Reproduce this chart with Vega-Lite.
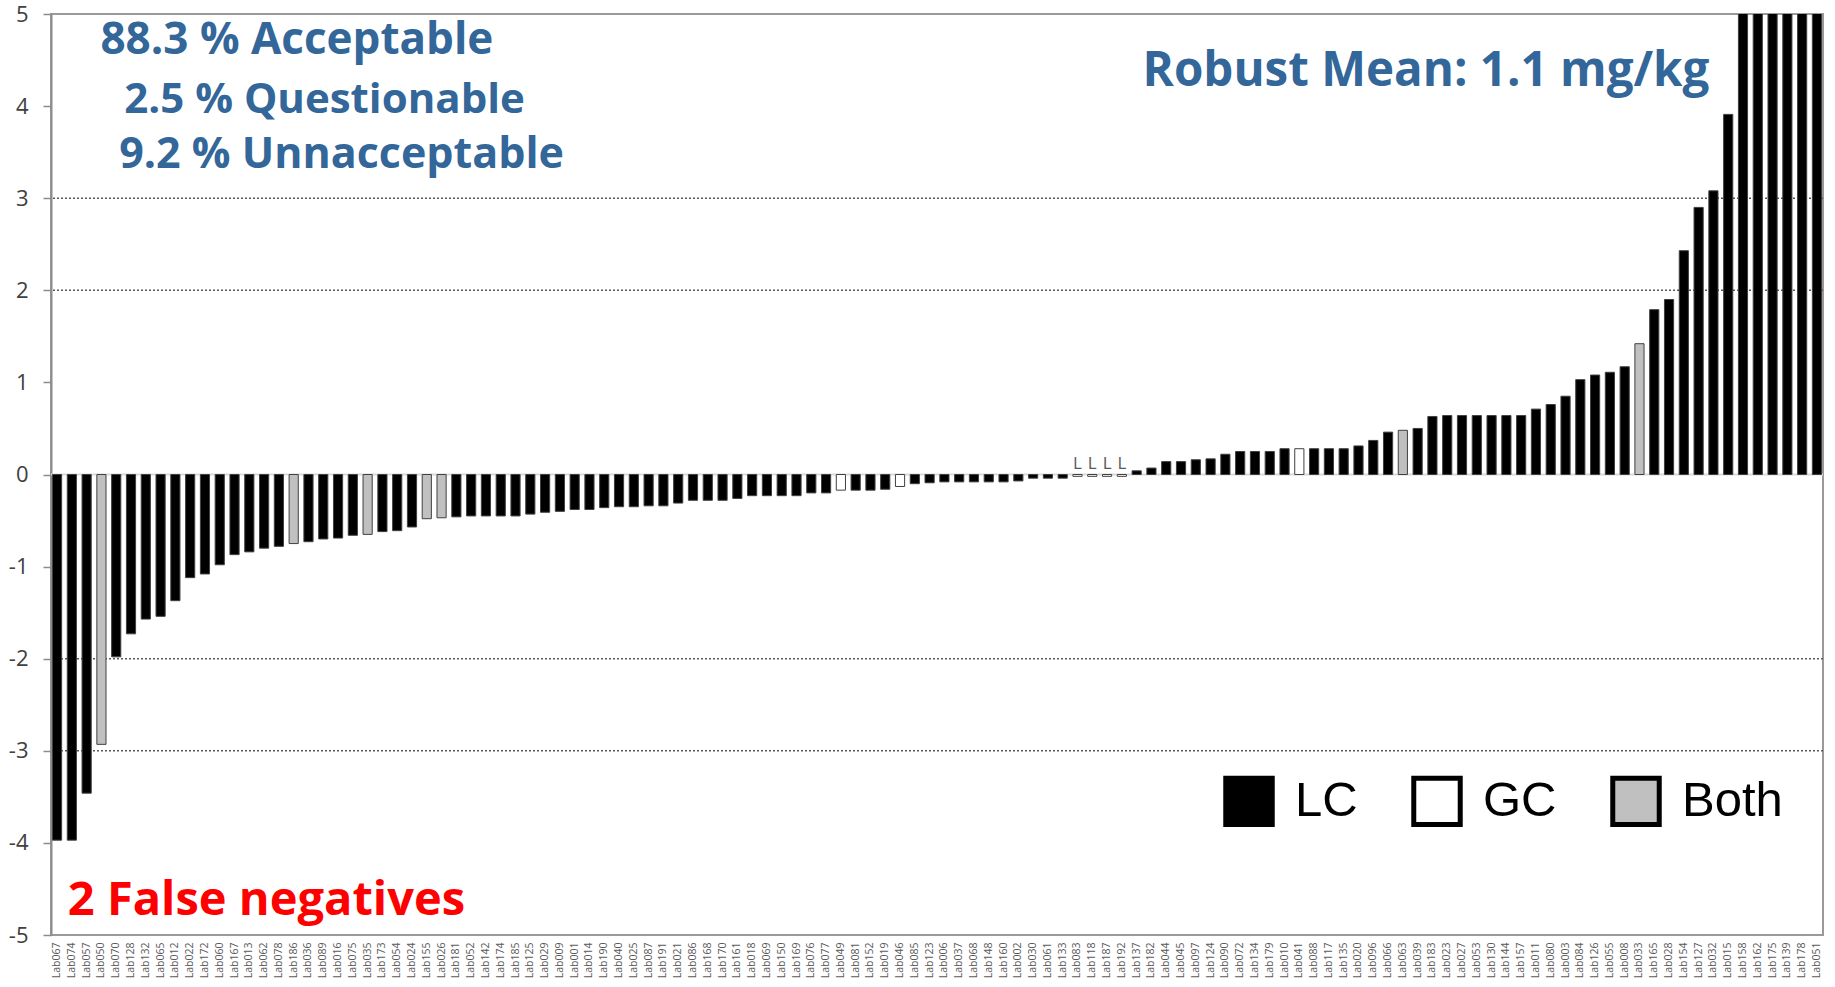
{
  "$schema": "https://vega.github.io/schema/vega-lite/v6.json",
  "width": 1772,
  "height": 921,
  "autosize": {"type": "none"},
  "padding": {"left": 51, "top": 14, "right": 12, "bottom": 52},
  "background": "white",
  "config": {"view": {"stroke": "#9a9a9a", "strokeWidth": 2}, "font": "Open Sans"},
  "datasets": {
    "labs": [
      {"lab": "Lab067", "z": -3.97, "type": "LC"},
      {"lab": "Lab074", "z": -3.97, "type": "LC"},
      {"lab": "Lab057", "z": -3.46, "type": "LC"},
      {"lab": "Lab050", "z": -2.93, "type": "Both"},
      {"lab": "Lab070", "z": -1.98, "type": "LC"},
      {"lab": "Lab128", "z": -1.73, "type": "LC"},
      {"lab": "Lab132", "z": -1.57, "type": "LC"},
      {"lab": "Lab065", "z": -1.54, "type": "LC"},
      {"lab": "Lab012", "z": -1.37, "type": "LC"},
      {"lab": "Lab022", "z": -1.12, "type": "LC"},
      {"lab": "Lab172", "z": -1.08, "type": "LC"},
      {"lab": "Lab060", "z": -0.98, "type": "LC"},
      {"lab": "Lab167", "z": -0.87, "type": "LC"},
      {"lab": "Lab013", "z": -0.84, "type": "LC"},
      {"lab": "Lab062", "z": -0.80, "type": "LC"},
      {"lab": "Lab078", "z": -0.78, "type": "LC"},
      {"lab": "Lab186", "z": -0.75, "type": "Both"},
      {"lab": "Lab036", "z": -0.73, "type": "LC"},
      {"lab": "Lab089", "z": -0.70, "type": "LC"},
      {"lab": "Lab016", "z": -0.69, "type": "LC"},
      {"lab": "Lab075", "z": -0.66, "type": "LC"},
      {"lab": "Lab035", "z": -0.65, "type": "Both"},
      {"lab": "Lab173", "z": -0.62, "type": "LC"},
      {"lab": "Lab054", "z": -0.61, "type": "LC"},
      {"lab": "Lab024", "z": -0.57, "type": "LC"},
      {"lab": "Lab155", "z": -0.48, "type": "Both"},
      {"lab": "Lab026", "z": -0.47, "type": "Both"},
      {"lab": "Lab181", "z": -0.46, "type": "LC"},
      {"lab": "Lab052", "z": -0.45, "type": "LC"},
      {"lab": "Lab142", "z": -0.45, "type": "LC"},
      {"lab": "Lab174", "z": -0.45, "type": "LC"},
      {"lab": "Lab185", "z": -0.45, "type": "LC"},
      {"lab": "Lab125", "z": -0.43, "type": "LC"},
      {"lab": "Lab029", "z": -0.41, "type": "LC"},
      {"lab": "Lab009", "z": -0.40, "type": "LC"},
      {"lab": "Lab001", "z": -0.38, "type": "LC"},
      {"lab": "Lab014", "z": -0.38, "type": "LC"},
      {"lab": "Lab190", "z": -0.36, "type": "LC"},
      {"lab": "Lab040", "z": -0.35, "type": "LC"},
      {"lab": "Lab025", "z": -0.35, "type": "LC"},
      {"lab": "Lab087", "z": -0.34, "type": "LC"},
      {"lab": "Lab191", "z": -0.34, "type": "LC"},
      {"lab": "Lab021", "z": -0.31, "type": "LC"},
      {"lab": "Lab086", "z": -0.28, "type": "LC"},
      {"lab": "Lab168", "z": -0.28, "type": "LC"},
      {"lab": "Lab170", "z": -0.28, "type": "LC"},
      {"lab": "Lab161", "z": -0.26, "type": "LC"},
      {"lab": "Lab018", "z": -0.23, "type": "LC"},
      {"lab": "Lab069", "z": -0.23, "type": "LC"},
      {"lab": "Lab150", "z": -0.23, "type": "LC"},
      {"lab": "Lab169", "z": -0.23, "type": "LC"},
      {"lab": "Lab076", "z": -0.20, "type": "LC"},
      {"lab": "Lab077", "z": -0.20, "type": "LC"},
      {"lab": "Lab049", "z": -0.17, "type": "GC"},
      {"lab": "Lab081", "z": -0.17, "type": "LC"},
      {"lab": "Lab152", "z": -0.17, "type": "LC"},
      {"lab": "Lab019", "z": -0.16, "type": "LC"},
      {"lab": "Lab046", "z": -0.13, "type": "GC"},
      {"lab": "Lab085", "z": -0.10, "type": "LC"},
      {"lab": "Lab123", "z": -0.09, "type": "LC"},
      {"lab": "Lab006", "z": -0.08, "type": "LC"},
      {"lab": "Lab037", "z": -0.08, "type": "LC"},
      {"lab": "Lab068", "z": -0.08, "type": "LC"},
      {"lab": "Lab148", "z": -0.08, "type": "LC"},
      {"lab": "Lab160", "z": -0.08, "type": "LC"},
      {"lab": "Lab002", "z": -0.07, "type": "LC"},
      {"lab": "Lab030", "z": -0.04, "type": "LC"},
      {"lab": "Lab061", "z": -0.04, "type": "LC"},
      {"lab": "Lab133", "z": -0.04, "type": "LC"},
      {"lab": "Lab083", "z": -0.02, "type": "GC"},
      {"lab": "Lab118", "z": -0.02, "type": "GC"},
      {"lab": "Lab187", "z": -0.02, "type": "GC"},
      {"lab": "Lab192", "z": -0.02, "type": "GC"},
      {"lab": "Lab137", "z": 0.04, "type": "LC"},
      {"lab": "Lab182", "z": 0.07, "type": "LC"},
      {"lab": "Lab044", "z": 0.14, "type": "LC"},
      {"lab": "Lab045", "z": 0.14, "type": "LC"},
      {"lab": "Lab097", "z": 0.16, "type": "LC"},
      {"lab": "Lab124", "z": 0.17, "type": "LC"},
      {"lab": "Lab090", "z": 0.22, "type": "LC"},
      {"lab": "Lab072", "z": 0.25, "type": "LC"},
      {"lab": "Lab134", "z": 0.25, "type": "LC"},
      {"lab": "Lab179", "z": 0.25, "type": "LC"},
      {"lab": "Lab010", "z": 0.28, "type": "LC"},
      {"lab": "Lab041", "z": 0.28, "type": "GC"},
      {"lab": "Lab088", "z": 0.28, "type": "LC"},
      {"lab": "Lab117", "z": 0.28, "type": "LC"},
      {"lab": "Lab135", "z": 0.28, "type": "LC"},
      {"lab": "Lab020", "z": 0.31, "type": "LC"},
      {"lab": "Lab096", "z": 0.37, "type": "LC"},
      {"lab": "Lab066", "z": 0.46, "type": "LC"},
      {"lab": "Lab063", "z": 0.48, "type": "Both"},
      {"lab": "Lab039", "z": 0.50, "type": "LC"},
      {"lab": "Lab183", "z": 0.63, "type": "LC"},
      {"lab": "Lab023", "z": 0.64, "type": "LC"},
      {"lab": "Lab027", "z": 0.64, "type": "LC"},
      {"lab": "Lab053", "z": 0.64, "type": "LC"},
      {"lab": "Lab130", "z": 0.64, "type": "LC"},
      {"lab": "Lab144", "z": 0.64, "type": "LC"},
      {"lab": "Lab157", "z": 0.64, "type": "LC"},
      {"lab": "Lab011", "z": 0.71, "type": "LC"},
      {"lab": "Lab080", "z": 0.76, "type": "LC"},
      {"lab": "Lab003", "z": 0.85, "type": "LC"},
      {"lab": "Lab084", "z": 1.03, "type": "LC"},
      {"lab": "Lab126", "z": 1.08, "type": "LC"},
      {"lab": "Lab055", "z": 1.11, "type": "LC"},
      {"lab": "Lab008", "z": 1.17, "type": "LC"},
      {"lab": "Lab033", "z": 1.42, "type": "Both"},
      {"lab": "Lab165", "z": 1.79, "type": "LC"},
      {"lab": "Lab028", "z": 1.90, "type": "LC"},
      {"lab": "Lab154", "z": 2.43, "type": "LC"},
      {"lab": "Lab127", "z": 2.90, "type": "LC"},
      {"lab": "Lab032", "z": 3.08, "type": "LC"},
      {"lab": "Lab015", "z": 3.91, "type": "LC"},
      {"lab": "Lab158", "z": 5.4, "type": "LC"},
      {"lab": "Lab162", "z": 6.0, "type": "LC"},
      {"lab": "Lab175", "z": 6.8, "type": "LC"},
      {"lab": "Lab139", "z": 7.5, "type": "LC"},
      {"lab": "Lab178", "z": 8.6, "type": "LC"},
      {"lab": "Lab051", "z": 10.2, "type": "LC"}
    ],
    "grid": [{"g": -3}, {"g": -2}, {"g": 2}, {"g": 3}],
    "lflag": [{"lab": "Lab083"}, {"lab": "Lab118"}, {"lab": "Lab187"}, {"lab": "Lab192"}]
  },
  "encoding": {
    "x": {
      "field": "lab",
      "type": "nominal",
      "sort": null,
      "scale": {
        "paddingInner": 0.38,
        "paddingOuter": 0.1,
        "domain": ["Lab067","Lab074","Lab057","Lab050","Lab070","Lab128","Lab132","Lab065","Lab012","Lab022","Lab172","Lab060","Lab167","Lab013","Lab062","Lab078","Lab186","Lab036","Lab089","Lab016","Lab075","Lab035","Lab173","Lab054","Lab024","Lab155","Lab026","Lab181","Lab052","Lab142","Lab174","Lab185","Lab125","Lab029","Lab009","Lab001","Lab014","Lab190","Lab040","Lab025","Lab087","Lab191","Lab021","Lab086","Lab168","Lab170","Lab161","Lab018","Lab069","Lab150","Lab169","Lab076","Lab077","Lab049","Lab081","Lab152","Lab019","Lab046","Lab085","Lab123","Lab006","Lab037","Lab068","Lab148","Lab160","Lab002","Lab030","Lab061","Lab133","Lab083","Lab118","Lab187","Lab192","Lab137","Lab182","Lab044","Lab045","Lab097","Lab124","Lab090","Lab072","Lab134","Lab179","Lab010","Lab041","Lab088","Lab117","Lab135","Lab020","Lab096","Lab066","Lab063","Lab039","Lab183","Lab023","Lab027","Lab053","Lab130","Lab144","Lab157","Lab011","Lab080","Lab003","Lab084","Lab126","Lab055","Lab008","Lab033","Lab165","Lab028","Lab154","Lab127","Lab032","Lab015","Lab158","Lab162","Lab175","Lab139","Lab178","Lab051"]
      },
      "axis": {
        "title": null,
        "labelAngle": -90,
        "labelFontSize": 10.5,
        "labelFont": "Open Sans",
        "labelColor": "#595959",
        "ticks": false,
        "domain": false,
        "labelPadding": 7,
        "labelOverlap": false
      }
    }
  },
  "layer": [
    {
      "data": {"name": "grid"},
      "mark": {"type": "rule", "stroke": "#595959", "strokeDash": [2, 2], "strokeWidth": 1.5},
      "encoding": {"x": null, "y": {"field": "g", "type": "quantitative", "scale": {"domain": [-5, 5], "nice": false, "zero": false}}}
    },
    {
      "data": {"values": [{"g": 0}]},
      "mark": {"type": "rule", "stroke": "#d9d9d9", "strokeWidth": 2},
      "encoding": {"x": null, "y": {"field": "g", "type": "quantitative"}}
    },
    {
      "data": {"name": "labs"},
      "mark": {"type": "bar", "clip": true, "stroke": "#404040", "strokeWidth": 1},
      "encoding": {
        "y": {
          "field": "z",
          "type": "quantitative",
          "axis": {
            "title": null,
            "values": [-5, -4, -3, -2, -1, 0, 1, 2, 3, 4, 5],
            "grid": false,
            "domainColor": "#8c8c8c",
            "domainWidth": 2,
            "tickColor": "#8c8c8c",
            "tickSize": 8,
            "tickWidth": 1.5,
            "labelFontSize": 22,
            "labelFont": "Open Sans",
            "labelColor": "#404040",
            "labelPadding": 15,
            "labelExpr": "datum.value < 0 ? '-' + abs(datum.value) : '' + datum.value"
          }
        },
        "fill": {
          "field": "type",
          "type": "nominal",
          "scale": {"domain": ["LC", "GC", "Both"], "range": ["#000000", "#ffffff", "#c0c0c0"]},
          "legend": {
            "orient": "none",
            "legendX": 1172,
            "legendY": 761,
            "direction": "horizontal",
            "title": null,
            "symbolType": "square",
            "symbolSize": 2160,
            "symbolOpacity": 1,
            "labelFontSize": 49,
            "labelFont": "Liberation Sans",
            "labelColor": "#000000",
            "labelOffset": 20,
            "columnPadding": 45,
            "padding": 0,
            "symbolStrokeWidth": 5,
            "symbolStrokeColor": "#000000",
            "encode": {"symbols": {"update": {"stroke": {"value": "#000000"}, "strokeWidth": {"value": 5}}}}
          }
        }
      }
    },
    {
      "data": {"name": "lflag"},
      "mark": {"type": "text", "text": "L", "fontSize": 17, "fill": "#595959", "align": "center", "baseline": "alphabetic", "font": "Open Sans"},
      "encoding": {"y": {"datum": 0.06}}
    },
    {
      "data": {"values": [{}]},
      "mark": {"type": "text", "text": "88.3 % Acceptable", "fontSize": 44, "fontWeight": "bold", "fill": "#336699", "align": "left", "baseline": "alphabetic", "dx": -1, "font": "Open Sans"},
      "encoding": {"x": {"datum": "Lab050"}, "y": {"datum": 4.57}}
    },
    {
      "data": {"values": [{}]},
      "mark": {"type": "text", "text": "2.5 % Questionable", "fontSize": 42, "fontWeight": "bold", "fill": "#336699", "align": "left", "baseline": "alphabetic", "dx": 8, "font": "Open Sans"},
      "encoding": {"x": {"datum": "Lab070"}, "y": {"datum": 3.93}}
    },
    {
      "data": {"values": [{}]},
      "mark": {"type": "text", "text": "9.2 % Unnacceptable", "fontSize": 43, "fontWeight": "bold", "fill": "#336699", "align": "left", "baseline": "alphabetic", "dx": 3, "font": "Open Sans"},
      "encoding": {"x": {"datum": "Lab070"}, "y": {"datum": 3.33}}
    },
    {
      "data": {"values": [{}]},
      "mark": {"type": "text", "text": "Robust Mean: 1.1 mg/kg", "fontSize": 47.5, "fontWeight": "bold", "fill": "#336699", "align": "right", "baseline": "alphabetic", "dx": -4, "font": "Open Sans"},
      "encoding": {"x": {"datum": "Lab032"}, "y": {"datum": 4.22}}
    },
    {
      "data": {"values": [{}]},
      "mark": {"type": "text", "text": "2 False negatives", "fontSize": 47, "fontWeight": "bold", "fill": "#ff0000", "align": "left", "baseline": "alphabetic", "dx": -4, "font": "Open Sans"},
      "encoding": {"x": {"datum": "Lab074"}, "y": {"datum": -4.78}}
    }
  ]
}
